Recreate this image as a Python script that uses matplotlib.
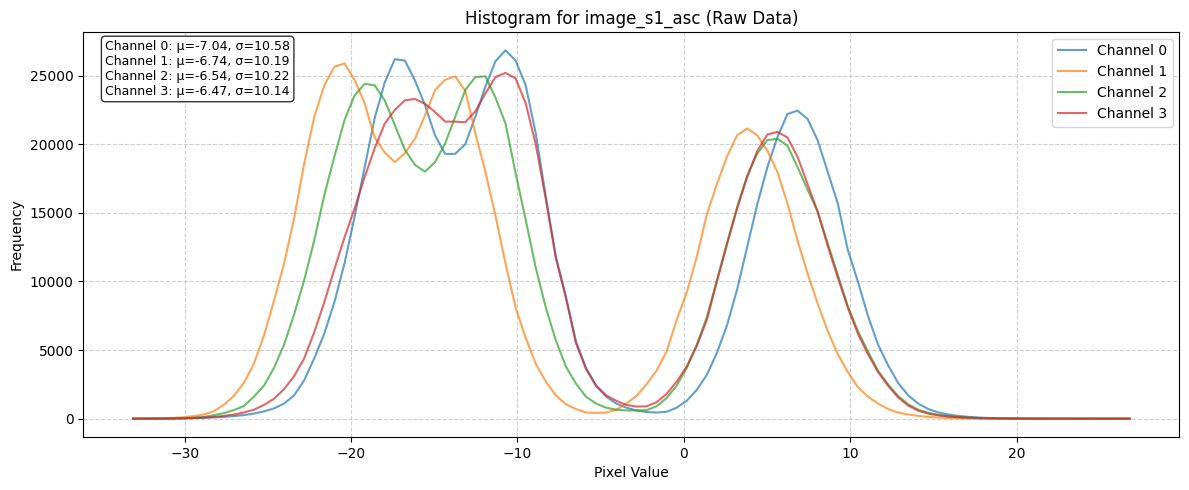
import numpy as np
import matplotlib
matplotlib.use('Agg')
import matplotlib.pyplot as plt

# bin centres of the 100-bin histogram
bin_first = -33.1
bin_last = 26.8
n_bins = 100

channel_names = ['Channel 0', 'Channel 1', 'Channel 2', 'Channel 3']
channel_means = [-7.04, -6.74, -6.54, -6.47]
channel_stds = [10.58, 10.19, 10.22, 10.14]

counts_ch0 = [0, 0, 2, 5, 10, 20, 35, 60, 90, 130,
              190, 260, 370, 530, 750, 1100, 1700, 2800, 4400, 6200,
              8500, 11300, 14700, 18300, 21900, 24500, 26200, 26100, 24650, 22850,
              20650, 19300, 19300, 20000, 22000, 24200, 26050, 26850, 26100, 24300,
              20800, 16200, 11800, 8900, 5600, 3700, 2400, 1600, 1100, 800,
              600, 480, 450, 500, 800, 1300, 2100, 3200, 4800, 6800,
              9400, 12500, 15600, 18300, 20500, 22200, 22450, 21850, 20300, 18000,
              15700, 12300, 10000, 7500, 5400, 3900, 2600, 1700, 1100, 700,
              450, 300, 200, 130, 80, 50, 30, 20, 12, 8,
              5, 3, 2, 1, 0, 0, 0, 0, 0, 0]

counts_ch1 = [5, 10, 20, 35, 60, 100, 180, 300, 530, 1000,
              1650, 2600, 4000, 6050, 8600, 11300, 14600, 18600, 22000, 24300,
              25650, 25900, 24700, 23000, 20500, 19400, 18700, 19350, 20400, 22100,
              23950, 24700, 24950, 23900, 20800, 18000, 14800, 11300, 8100, 5900,
              4000, 2700, 1700, 1050, 700, 450, 420, 450, 650, 1100,
              1650, 2500, 3500, 4900, 7200, 9200, 11800, 14900, 17100, 19100,
              20650, 21150, 20650, 19550, 18000, 15700, 13000, 10600, 8400, 6400,
              4700, 3400, 2300, 1600, 1100, 700, 450, 300, 200, 130,
              80, 50, 30, 20, 12, 8, 5, 3, 2, 1,
              0, 0, 0, 0, 0, 0, 0, 0, 0, 0]

counts_ch2 = [0, 2, 5, 10, 18, 30, 60, 120, 250, 400,
              620, 920, 1600, 2400, 3700, 5400, 7600, 10100, 13000, 16300,
              19100, 21750, 23550, 24400, 24300, 23200, 21400, 19600, 18500, 18000,
              18700, 20050, 22000, 23950, 24900, 24950, 23400, 21500, 17900, 14500,
              11000, 8100, 5700, 3800, 2550, 1600, 1100, 800, 650, 600,
              600, 620, 900, 1500, 2400, 3700, 5400, 7400, 10100, 12800,
              15400, 17700, 19300, 20300, 20400, 19900, 18350, 16700, 15100, 12800,
              10500, 8200, 6400, 4900, 3500, 2500, 1650, 1050, 650, 420,
              270, 180, 120, 75, 45, 30, 18, 10, 6, 4,
              2, 1, 0, 0, 0, 0, 0, 0, 0, 0]

counts_ch3 = [0, 2, 4, 8, 15, 30, 50, 80, 130, 200,
              300, 450, 650, 1000, 1450, 2150, 3100, 4400, 6300, 8500,
              10900, 13200, 15300, 17600, 19700, 21500, 22500, 23200, 23300, 22950,
              22350, 21650, 21650, 21600, 22400, 23700, 24900, 25200, 24800, 23000,
              20000, 16000, 11700, 8800, 5500, 3600, 2400, 1700, 1300, 1000,
              880, 900, 1200, 1800, 2700, 3800, 5300, 7200, 10000, 12700,
              15300, 17600, 19500, 20700, 20900, 20500, 19100, 17100, 15100, 12600,
              10300, 8100, 6200, 4700, 3400, 2400, 1550, 950, 580, 370,
              240, 160, 100, 65, 40, 25, 15, 9, 5, 3,
              2, 1, 0, 0, 0, 0, 0, 0, 0, 0]

bin_centers = np.linspace(bin_first, bin_last, n_bins)
all_counts = [counts_ch0, counts_ch1, counts_ch2, counts_ch3]

fig, ax = plt.subplots(figsize=(11.89, 4.9), dpi=100)

for name, counts in zip(channel_names, all_counts):
    ax.plot(bin_centers, counts, label=name, alpha=0.7, linewidth=1.5)

ax.set_title('Histogram for image_s1_asc (Raw Data)')
ax.set_xlabel('Pixel Value')
ax.set_ylabel('Frequency')
ax.legend(loc='upper right')
ax.grid(True, linestyle='--', alpha=0.6)

# stats box
stats_text = '\n'.join(f'{n}: μ={m:.2f}, σ={s:.2f}'
                       for n, m, s in zip(channel_names, channel_means, channel_stds))
ax.text(0.02, 0.98, stats_text, transform=ax.transAxes, fontsize=9,
        va='top', ha='left',
        bbox=dict(boxstyle='round', facecolor='white', alpha=0.8))

fig.subplots_adjust(left=0.07, right=0.992, top=0.935, bottom=0.108)
plt.savefig('out.png')
